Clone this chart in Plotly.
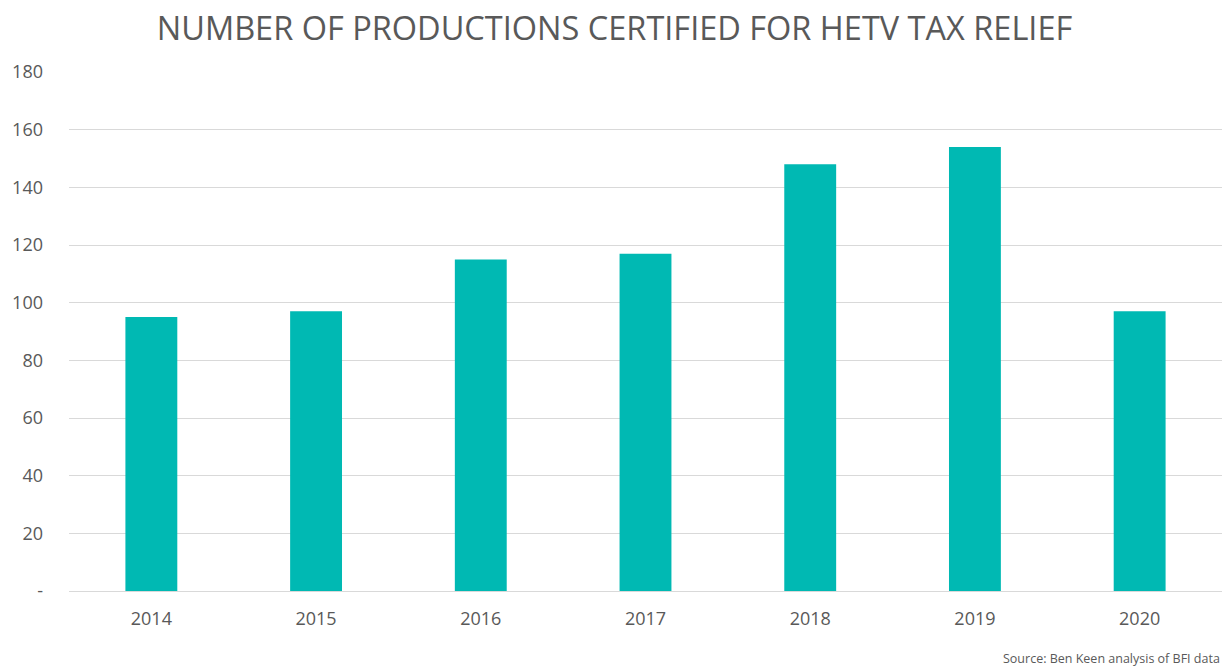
import plotly.graph_objects as go

years = ["2014", "2015", "2016", "2017", "2018", "2019", "2020"]
productions = [95, 97, 115, 117, 148, 154, 97]
y_ticks = [0, 20, 40, 60, 80, 100, 120, 140, 160, 180]
y_tick_labels = ["-", "20", "40", "60", "80", "100", "120", "140", "160", "180"]

TEXT = "#595959"
FONT = "Open Sans, Noto Sans, sans-serif"

fig = go.Figure(
    go.Bar(
        x=years,
        y=productions,
        marker=dict(color="#00B9B3", line=dict(width=0)),
        hoverinfo="x+y",
    )
)

fig.update_layout(
    width=1229,
    height=670,
    margin=dict(l=69, r=7, t=72, b=79),
    paper_bgcolor="white",
    plot_bgcolor="white",
    bargap=0.685,
    showlegend=False,
    font=dict(family=FONT, color=TEXT),
    title=dict(
        text="NUMBER OF PRODUCTIONS CERTIFIED FOR HETV TAX RELIEF",
        x=0.5,
        xanchor="center",
        y=0.958,
        yanchor="middle",
        font=dict(family=FONT, size=32.5, color=TEXT),
    ),
    xaxis=dict(
        showgrid=False,
        showline=True,
        linecolor="#d9d9d9",
        linewidth=1,
        ticks="",
        tickfont=dict(size=18, color=TEXT),
        ticklabelstandoff=11,
    ),
    yaxis=dict(
        range=[0, 180],
        tickvals=y_ticks,
        ticktext=y_tick_labels,
        showgrid=True,
        gridcolor="#d9d9d9",
        gridwidth=1,
        zeroline=False,
        showline=False,
        ticks="",
        tickfont=dict(size=18, color=TEXT),
        ticklabelstandoff=25,
    ),
    annotations=[
        dict(
            text="Source: Ben Keen analysis of BFI data",
            xref="paper",
            yref="paper",
            x=1.0,
            y=-0.15,
            xanchor="right",
            yanchor="bottom",
            showarrow=False,
            font=dict(family=FONT, size=12.5, color=TEXT),
        )
    ],
)

fig.write_html("out.html")
